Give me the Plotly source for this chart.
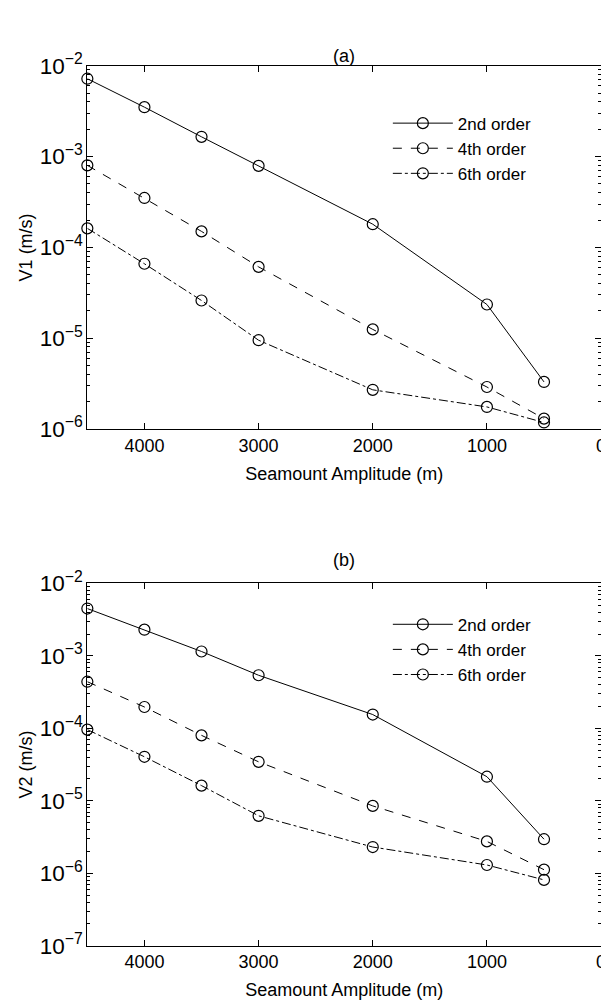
import plotly.graph_objects as go

# ---- data ----
amplitude = [4500, 4000, 3500, 3000, 2000, 1000, 500]

v1_2nd = [7.2e-3, 3.5e-3, 1.65e-3, 7.9e-4, 1.8e-4, 2.35e-5, 3.3e-6]
v1_4th = [8.0e-4, 3.5e-4, 1.5e-4, 6.1e-5, 1.25e-5, 2.9e-6, 1.3e-6]
v1_6th = [1.62e-4, 6.6e-5, 2.6e-5, 9.5e-6, 2.7e-6, 1.75e-6, 1.18e-6]

v2_2nd = [4.5e-3, 2.3e-3, 1.15e-3, 5.4e-4, 1.55e-4, 2.15e-5, 2.95e-6]
v2_4th = [4.4e-4, 1.97e-4, 8.0e-5, 3.45e-5, 8.5e-6, 2.75e-6, 1.12e-6]
v2_6th = [9.6e-5, 4.05e-5, 1.62e-5, 6.2e-6, 2.3e-6, 1.3e-6, 8.1e-7]

series_names = ["2nd order", "4th order", "6th order"]
dash_styles = ["solid", "dash", "dashdot"]
panel_titles = ["(a)", "(b)"]
y_titles = ["V1 (m/s)", "V2 (m/s)"]
x_title = "Seamount Amplitude (m)"
x_tickvals = [4000, 3000, 2000, 1000, 0]

W, H = 609, 1008
FONT = "Liberation Sans, Arial, Helvetica, sans-serif"
FS = 18

fig = go.Figure()

panels = [
    (v1_2nd, v1_4th, v1_6th, "x", "y", "legend"),
    (v2_2nd, v2_4th, v2_6th, "x2", "y2", "legend2"),
]
for vals_2, vals_4, vals_6, xa, ya, lg in panels:
    for name, vals, dash in zip(series_names, [vals_2, vals_4, vals_6], dash_styles):
        fig.add_trace(go.Scatter(
            x=amplitude, y=vals, name=name, mode="lines+markers",
            xaxis=xa, yaxis=ya, legend=lg, showlegend=True,
            line=dict(color="black", width=1, dash=dash),
            marker=dict(symbol="circle-open", size=11, color="black",
                        line=dict(width=1.2, color="black")),
            cliponaxis=False,
        ))

def px_x(p):
    return p / W

def px_y(p):
    return 1 - p / H

xdom = [px_x(80), px_x(598)]
dom_a = [px_y(417), px_y(43)]
dom_b = [px_y(949), px_y(576)]

common_x = dict(
    range=[4500, 0], tickvals=x_tickvals, ticks="inside", ticklen=6,
    mirror="ticks", showline=True, linecolor="black", linewidth=1,
    showgrid=False, zeroline=False, tickcolor="black",
    ticklabeloverflow="allow",
    tickfont=dict(family=FONT, size=FS, color="black"),
    title=dict(text=x_title, font=dict(family=FONT, size=FS, color="black"), standoff=12),
)
common_y = dict(
    type="log", dtick=1, ticks="inside", ticklen=6,
    mirror="ticks", showline=True, linecolor="black", linewidth=1,
    showgrid=False, zeroline=False, tickcolor="black",
    exponentformat="power", showexponent="all",
    minor=dict(ticks="inside", ticklen=3, tickcolor="black", showgrid=False),
    tickfont=dict(family=FONT, size=FS, color="black"),
)

fig.update_layout(
    width=W, height=H,
    margin=dict(l=0, r=0, t=0, b=0),
    paper_bgcolor="white", plot_bgcolor="white",
    font=dict(family=FONT, size=FS, color="black"),
    xaxis=dict(domain=xdom, anchor="y", **common_x),
    yaxis=dict(domain=dom_a, anchor="x", range=[-6, -2],
               title=dict(text=y_titles[0], font=dict(family=FONT, size=FS), standoff=2),
               **common_y),
    xaxis2=dict(domain=xdom, anchor="y2", **common_x),
    yaxis2=dict(domain=dom_b, anchor="x2", range=[-7, -2],
                title=dict(text=y_titles[1], font=dict(family=FONT, size=FS), standoff=2),
                **common_y),
    legend=dict(x=px_x(383), y=px_y(84), xanchor="left", yanchor="top",
                bgcolor="rgba(0,0,0,0)", borderwidth=0, itemwidth=60,
                font=dict(family=FONT, size=17, color="black"), tracegroupgap=0),
    legend2=dict(x=px_x(383), y=px_y(600), xanchor="left", yanchor="top",
                 bgcolor="rgba(0,0,0,0)", borderwidth=0, itemwidth=60,
                 font=dict(family=FONT, size=17, color="black"), tracegroupgap=0),
    annotations=[
        dict(text=panel_titles[0], x=(xdom[0] + xdom[1]) / 2, y=px_y(21),
             xref="paper", yref="paper", showarrow=False,
             font=dict(family=FONT, size=FS, color="black")),
        dict(text=panel_titles[1], x=(xdom[0] + xdom[1]) / 2, y=px_y(552),
             xref="paper", yref="paper", showarrow=False,
             font=dict(family=FONT, size=FS, color="black")),
    ],
)

fig.write_html("out.html")
